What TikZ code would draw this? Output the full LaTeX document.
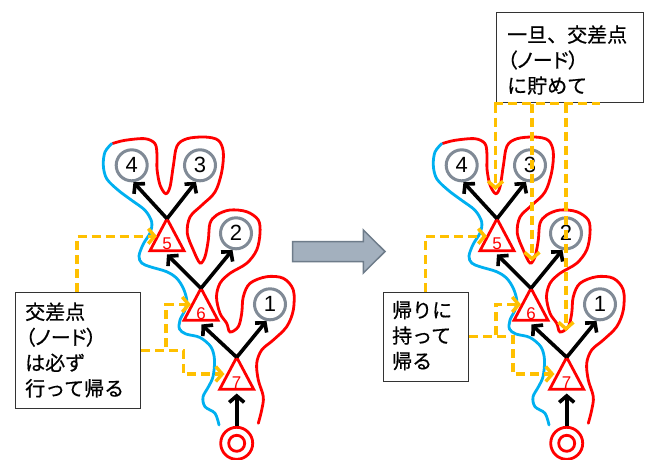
\documentclass[tikz,border=0pt]{standalone}
\usepackage{fontspec}
\setmainfont{Liberation Sans}
\newfontfamily\jp[FakeBold=0.6]{Noto Sans CJK JP}
\newfontfamily\jpp[RawFeature=+palt,FakeBold=0.6]{Noto Sans CJK JP}
\usetikzlibrary{arrows.meta,calc}
\definecolor{ored}{RGB}{255,0,0}
\definecolor{oblue}{RGB}{0,176,240}
\definecolor{ogold}{RGB}{255,192,0}
\definecolor{cgray}{RGB}{128,138,150}
\definecolor{afill}{RGB}{163,176,190}
\definecolor{aedge}{RGB}{110,124,138}
\begin{document}
\begin{tikzpicture}[x=1pt,y=-1pt,
  arr/.style={line width=3.6pt, -{Straight Barb[length=6.5pt,width=15pt]}},
  ydash/.style={ogold, line width=3.4pt, dash pattern=on 9pt off 5pt},
  yarr/.style={ydash, -{Straight Barb[length=6.5pt,width=15pt]}},
  cnode/.style={circle, draw=cgray, line width=3pt, minimum size=31pt, inner sep=0pt, font=\fontsize{22}{22}\selectfont},
  tri/.style={draw=ored, line width=2.8pt, line join=miter},
  tlabel/.style={text=ored, font=\fontsize{17}{17}\selectfont, inner sep=0pt},
  box/.style={draw=black!80, line width=1.1pt, fill=white, inner sep=0pt},
  jtxt/.style={font=\jp\fontsize{20}{25.5}\selectfont, align=left, inner sep=0pt, anchor=west},
  redc/.style={ored, line width=2.8pt, line cap=round},
  bluec/.style={oblue, line width=2.8pt, line cap=round}
]
\useasboundingbox (0,0) rectangle (649,459);
\fill[white] (0,0) rectangle (649,459);

\foreach \dx/\s in {0/L,330/R}{
\begin{scope}[xshift=\dx]
  % red contour
  \draw[redc] plot[smooth,tension=0.55] coordinates {
    (112.5,143.5) (125,140.3) (145,138.7) (155,143.7) (157,155) (157,169)
    (160,185) (165.7,193.7) (170,187) (173.3,166) (177,146) (187,138.7)
    (205,137) (218.3,140.3) (223.3,152) (221.7,172) (215,192) (201.7,205.3)
    (190,217) (187.3,233.3) (193.3,250) (200,263) (205,256.7) (208.3,240)
    (210,223.3) (216.7,215) (230,210) (246.7,211.7) (258.3,220) (260,233.3)
    (256.7,250) (246.7,263.3) (230,273.3) (220,283.3) (216.5,297) (220,313.3)
    (226.7,323.3) (230,332) (238.3,326.7) (241.7,313.3) (243.3,296.7) (250,283.3)
    (266.7,276.7) (283.3,278.3) (293.3,290) (293.3,310) (286.7,326.7) (273.3,340)
    (261.7,350) (256.7,363.3) (258.3,380) (263.3,396.7) (261.7,410) (258.3,423.3)};
  % blue contour
  \draw[bluec] plot[smooth,tension=0.55] coordinates {
    (111.7,143.7) (105,152) (103.3,165.3) (106.7,178.7) (118.3,190.3) (131.7,200.3)
    (145,210.3) (151.7,222) (150,233) (143.3,244) (139,256) (141.7,263)
    (150,266.7) (166.7,271.7) (176.7,278.3) (183.3,288.3) (186.7,300) (185,310)
    (180,320) (179.5,329) (186,334) (200,337.5) (211,347) (214.5,360)
    (213,376.7) (208.3,387) (203,397) (205,406.7) (215,413.3) (219,425)};
  % leaf circles
  \node[cnode] (c4-\s) at (131.7,165.3) {4};
  \node[cnode] (c3-\s) at (200,165.3) {3};
  \node[cnode] (c2-\s) at (236,233.3) {2};
  \node[cnode] (c1-\s) at (270,304.3) {1};
  % triangles
  \coordinate (a5-\s) at (167,218.7);
  \coordinate (a6-\s) at (201,288.3);
  \coordinate (a7-\s) at (236.7,357.3);
  \draw[tri] (a5-\s) -- ++(-17,32) -- ++(34,0) -- cycle;
  \draw[tri] (a6-\s) -- ++(-17,32) -- ++(34,0) -- cycle;
  \draw[tri] (a7-\s) -- ++(-17,32) -- ++(34,0) -- cycle;
  \node[tlabel] (t5-\s) at (167,243.7) {5};
  \node[tlabel] (t6-\s) at (201,313.3) {6};
  \node[tlabel] (t7-\s) at (236.7,383) {7};
  \coordinate (b5-\s) at (167,254.5);
  \coordinate (b6-\s) at (201.5,324.5);
  \coordinate (b7-\s) at (236.7,393.5);
  % targets for yellow arrows
  \coordinate (l5-\s) at (157,236.2);
  \coordinate (l6-\s) at (191,304.5);
  \coordinate (l7-\s) at (224.5,374);
  % root
  \node[circle, draw=ored, line width=2.8pt, minimum size=32pt, inner sep=0pt] (root-\s) at (236.7,443.3) {};
  \draw[redc] (root-\s.center) circle[radius=8];
  % black arrows
  \draw[arr] (root-\s) -- (b7-\s);
  \draw[arr] (a7-\s) -- (b6-\s);
  \draw[arr] (a7-\s) -- (c1-\s.258);
  \draw[arr] (a6-\s) -- (b5-\s);
  \draw[arr] (a6-\s) -- (c2-\s.258);
  \draw[arr] (a5-\s) -- (c4-\s.276);
  \draw[arr] (a5-\s) -- (c3-\s.256);
\end{scope}}

% gray block arrow
\draw[draw=aedge, fill=afill, line width=1.5pt, line join=miter]
  (292.7,241.7) -- (363.3,241.7) -- (363.3,230) -- (385,251.5) -- (363.3,273) -- (363.3,261.7) -- (292.7,261.7) -- cycle;

% boxes and texts
\node[box, minimum width=125pt, minimum height=116pt, anchor=north west] (boxL) at (15,291.7) {};
\node[jtxt] (txtL) at (25,350) {交差点\\{\jpp（ノード）}\\は必ず\\行って帰る};
\node[box, minimum width=85pt, minimum height=89pt, anchor=north west] (boxR) at (383.3,291.7) {};
\node[jtxt] (txtR) at (392,335.5) {帰りに\\持って\\帰る};
\node[box, minimum width=147.3pt, minimum height=90pt, anchor=north west] (boxT) at (496,11.7) {};
\node[jtxt] (txtT) at (507,60) {一旦、交差点\\{\jpp（ノード）}\\に貯めて};

% yellow dashed connectors, left
\draw[yarr] (boxL.north west) ++(62,0) |- (l5-L);
\draw[yarr] (boxL.east) -| ($(l6-L)+(-25,0)$) -- (l6-L);
\draw[yarr] (boxL.east) -| ($(l7-L)+(-41,0)$) -- (l7-L);
% yellow dashed connectors, right
\draw[yarr] (boxR.north west) ++(42.4,0) |- (l5-R);
\draw[yarr] (boxR.east) -| ($(l6-R)+(-25,0)$) -- (l6-R);
\draw[yarr] (boxR.east) -| ($(l7-R)+(-41.5,0)$) -- (l7-R);
% from the top box
\coordinate (h1) at (494,103.5);
\coordinate (h2) at (600,103.5);
\draw[ydash] (h1) -- (h2);
\coordinate (v1s) at (495.5,103.5);
\coordinate (v2s) at (532,103.5);
\coordinate (v3s) at (566,103.5);
\coordinate (v1e) at (495.5,190);
\coordinate (v2e) at (532,261);
\coordinate (v3e) at (566,331);
\draw[yarr] (v1s) -- (v1e);
\draw[yarr] (v2s) -- (v2e);
\draw[yarr] (v3s) -- (v3e);
\end{tikzpicture}
\end{document}
